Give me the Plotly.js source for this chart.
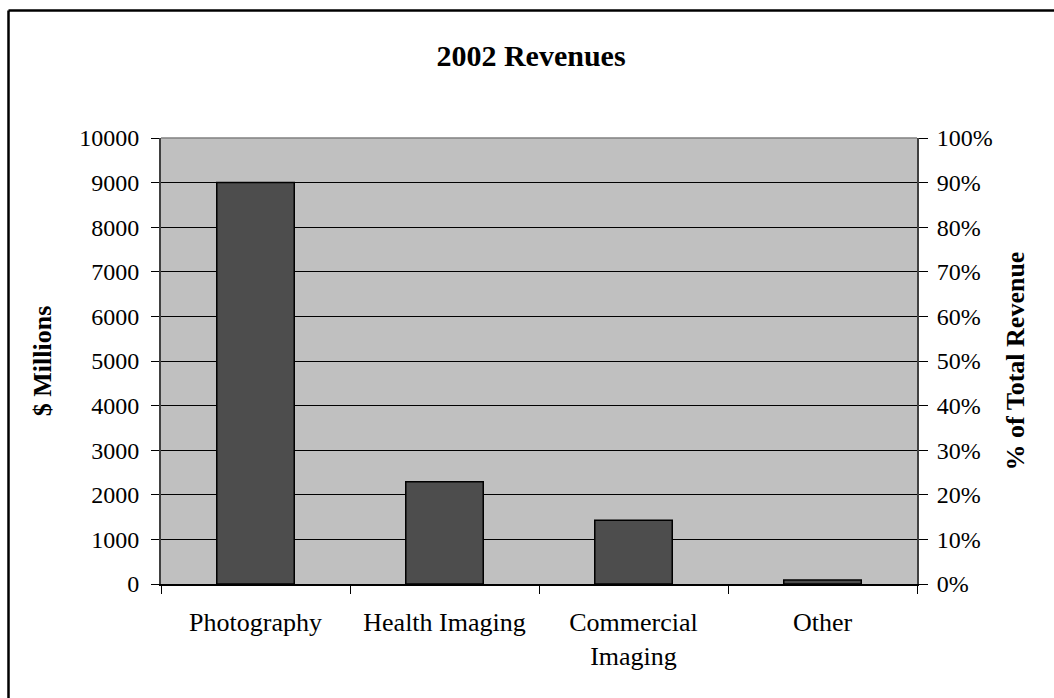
<!DOCTYPE html>
<html>
<head>
<meta charset="utf-8">
<script src="https://cdn.plot.ly/plotly-3.0.1.min.js"></script>
<style>html,body{margin:0;padding:0;background:#fff;}#chart{width:1054px;height:698px;}</style>
</head>
<body>
<div id="chart"></div>
<script>
const categories = ["Photography", "Health Imaging", "Commercial<br>Imaging", "Other"];
const revenues = [9000, 2290, 1430, 90];
const leftTicks = [0, 1000, 2000, 3000, 4000, 5000, 6000, 7000, 8000, 9000, 10000];
const rightTicks = [0, 10, 20, 30, 40, 50, 60, 70, 80, 90, 100];
const rightTickLabels = rightTicks.map(v => v + "%");

const fam = "Liberation Serif, Times New Roman, serif";
const font = {family: fam, color: "#000", size: 24};

const traces = [{
  type: "bar",
  x: categories,
  y: revenues,
  marker: {color: "#4d4d4d", line: {color: "#000", width: 1.5}},
  hoverinfo: "x+y"
}];

const L = 161, R = 917, T = 138, B = 584;
const pw = R - L, ph = B - T;
const px = v => (v - L) / pw;
const py = v => (B - v) / ph;

const layout = {
  width: 1054, height: 698,
  margin: {l: L, r: 1054 - R, t: T, b: 698 - B},
  paper_bgcolor: "#fff",
  plot_bgcolor: "#c0c0c0",
  font: font,
  showlegend: false,
  bargap: 0.59,
  title: {text: "<b>2002 Revenues</b>", font: {family: fam, size: 30, color: "#000"},
          x: px(531), xref: "paper", xanchor: "center", y: 1 - 55/698, yref: "container", yanchor: "middle"},
  xaxis: {
    type: "category", categoryarray: categories,
    tickson: "boundaries", ticks: "outside", ticklen: 8, tickcolor: "#000", tickwidth: 1,
    showline: true, linecolor: "#000", linewidth: 1.5,
    showgrid: false, tickfont: {family: fam, color: "#000", size: 26}, automargin: false, ticklabelstandoff: 14
  },
  yaxis: {
    range: [0, 10000], tickvals: leftTicks, ticktext: leftTicks.map(String),
    ticks: "outside", ticklen: 8, tickcolor: "#000",
    showline: true, linecolor: "#404040", linewidth: 2,
    showgrid: true, gridcolor: "#000", gridwidth: 1, zeroline: false,
    tickfont: font, automargin: false, ticklabelstandoff: 7,
    title: {text: "<b>$ Millions</b>", font: {family: fam, size: 26, color: "#000"}, standoff: 20}
  },
  yaxis2: {
    overlaying: "y", side: "right", anchor: "x",
    range: [0, 100], tickvals: rightTicks, ticktext: rightTickLabels,
    ticks: "outside", ticklen: 9, tickcolor: "#000",
    showline: true, linecolor: "#404040", linewidth: 2,
    showgrid: false, zeroline: false, tickfont: font, automargin: false, ticklabelstandoff: 4,
    title: {text: "<b>% of Total Revenue</b>", font: {family: fam, size: 26, color: "#000"}, standoff: 14}
  },
  shapes: [
    {type: "line", xref: "paper", yref: "paper", x0: px(8.5), x1: px(1060), y0: py(10.5), y1: py(10.5), line: {color: "#000", width: 2.5}},
    {type: "line", xref: "paper", yref: "paper", x0: px(8.5), x1: px(8.5), y0: py(10.5), y1: py(710), line: {color: "#000", width: 2.5}},
    {type: "line", xref: "paper", yref: "paper", x0: 0, x1: 1, y0: 1, y1: 1, line: {color: "#808080", width: 1.5}}
  ]
};

// invisible trace to anchor the right axis
traces.push({type: "scatter", x: categories, y: revenues.map(v => v / 100), yaxis: "y2", mode: "none", hoverinfo: "skip", showlegend: false});

Plotly.newPlot("chart", traces, layout, {displayModeBar: false, staticPlot: true});
</script>
</body>
</html>
